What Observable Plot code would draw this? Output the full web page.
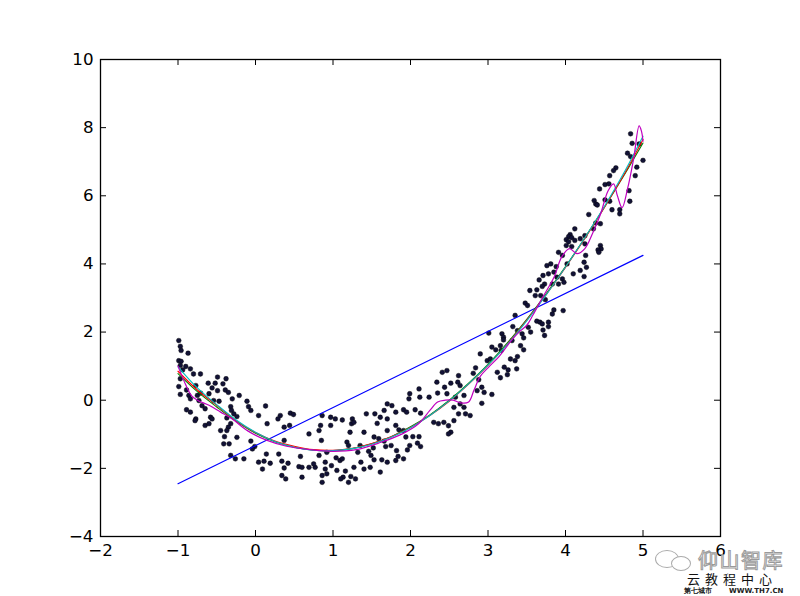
<!DOCTYPE html>
<html>
<head>
<meta charset="utf-8">
<script src="https://cdn.jsdelivr.net/npm/d3@7"></script>
<script src="https://cdn.jsdelivr.net/npm/@observablehq/plot@0.6"></script>
<style>
  html, body { margin: 0; padding: 0; background: #fff; }
  #wrap { position: relative; width: 800px; height: 596px; overflow: hidden; }
  .wm1 { position: absolute; left: 698px; top: 550px; line-height: 1; font-family: "Noto Sans CJK SC"; font-size: 20px; color: #fff; -webkit-text-stroke: 1px #9a9a9a; letter-spacing: 1.5px; }
  .wm2 { position: absolute; left: 687px; top: 572px; line-height: 1; font-family: "Noto Sans CJK SC"; font-size: 13px; color: #111; letter-spacing: 5px; }
  .wm3 { position: absolute; left: 684px; top: 588px; line-height: 1; font-family: "DejaVu Sans"; font-size: 7px; color: #222; font-weight: bold; }
  .wm3b { position: absolute; left: 729px; top: 588px; line-height: 1; font-family: "DejaVu Sans"; font-size: 7px; color: #222; font-weight: bold; }
  .bub1 { position: absolute; left: 655px; top: 550px; width: 22px; height: 16px; border: 1.5px solid #aaa; border-radius: 50%; }
  .bub2 { position: absolute; left: 671px; top: 556px; width: 18px; height: 13px; border: 1.5px solid #aaa; border-radius: 50%; background: #fff; }
</style>
</head>
<body>
<div id="wrap"></div>
<script>
// scatter samples
const scatterX = [
-0.99,-0.97,-0.96,-0.87,-0.99,-0.96,-0.97,-0.90,-0.84,-0.94,-0.80,-0.71,-0.49,-0.97,-0.61,-0.52,-0.42,-0.99,-0.77,-0.89,
-0.56,-0.49,-0.39,-0.35,-0.97,-0.86,-0.75,-0.71,-0.60,-0.38,-0.21,-0.84,-0.73,-0.54,-0.47,-0.30,-0.11,-0.69,-0.65,-0.32,
-0.09,0.13,-0.89,-0.84,-0.31,-0.28,-0.06,-0.77,-0.78,-0.58,-0.56,-0.37,-0.24,0.04,0.32,0.45,0.49,-0.65,-0.60,-0.32,
-0.35,0.15,0.29,-0.45,-0.37,0.86,0.84,0.82,-0.40,-0.24,-0.06,0.37,0.44,0.69,-0.41,-0.34,-0.01,-0.04,0.37,0.85,
-0.32,-0.26,-0.15,0.14,0.30,0.58,0.82,0.04,0.11,0.19,0.34,0.42,0.37,0.56,0.60,0.69,0.77,0.75,0.09,0.34,
0.39,0.60,0.86,0.86,
1.99,2.11,1.98,2.12,1.70,1.76,1.91,2.06,1.66,1.81,1.95,2.13,1.43,1.54,1.61,1.70,0.97,1.03,1.12,1.25,
0.97,1.24,1.27,1.57,1.81,1.91,1.22,1.40,1.70,1.85,1.18,1.53,1.59,1.66,1.94,2.03,2.11,1.20,1.35,1.52,
1.68,1.75,1.82,1.96,1.99,2.09,2.13,0.92,1.04,1.32,1.46,1.49,1.84,1.91,0.90,0.98,1.09,1.12,1.27,1.36,
1.53,1.63,1.70,1.81,0.90,1.05,1.16,1.40,1.48,1.61,1.13,1.23,0.92,1.20,1.10,1.29,
3.91,3.96,3.76,3.81,3.88,4.02,3.71,3.78,3.85,3.89,3.96,3.66,3.73,3.83,3.98,3.70,3.91,3.54,3.63,3.61,
3.68,3.74,3.48,3.51,3.85,3.97,3.83,3.35,3.63,3.67,3.70,3.78,3.78,3.32,3.52,3.55,3.71,3.73,3.38,3.01,
3.18,3.20,3.20,3.44,3.46,3.31,3.42,3.46,3.05,3.10,3.16,3.17,2.90,3.29,3.38,3.35,2.99,3.03,2.84,3.21,
3.26,3.37,3.12,3.25,3.16,2.41,2.47,2.62,2.81,2.34,2.44,2.52,2.61,2.64,2.88,2.35,2.47,2.58,2.69,2.86,
2.92,2.95,3.05,2.24,2.64,2.69,2.92,2.56,2.71,2.77,2.30,2.36,2.43,2.49,2.52,2.56,2.62,2.49,
4.84,4.86,4.95,4.80,5.00,4.92,4.84,4.90,4.65,4.62,4.57,4.51,4.56,4.44,4.82,4.83,4.37,4.39,4.51,4.57,
4.41,4.60,4.70,4.70,4.30,4.39,4.45,4.36,4.12,4.06,4.25,4.04,4.08,4.01,4.12,4.19,4.04,4.01,4.08,4.25,
4.45,4.46,4.42,4.43,4.26,4.24,4.27,4.19,4.10,4.24
];
const scatterY = [
1.75,1.58,1.46,1.38,1.16,1.14,1.02,0.99,0.92,0.89,0.77,0.77,0.68,0.63,0.50,0.50,0.48,0.40,0.43,0.30,
0.36,0.28,0.30,0.23,0.17,0.14,0.14,0.21,0.19,0.63,0.14,0.04,-0.01,-0.01,-0.03,0.04,-0.03,-0.16,-0.25,-0.19,
-0.19,-0.17,-0.28,-0.35,-0.30,-0.40,-0.30,-0.55,-0.60,-0.50,-0.55,-0.52,-0.48,-0.45,-0.45,-0.38,-0.42,-0.74,-0.69,-0.69,
-0.79,-0.69,-0.55,-0.89,-0.89,-0.45,-0.74,-0.89,-1.07,-1.09,-1.20,-0.79,-0.74,-0.99,-1.28,-1.28,-1.36,-1.43,-1.18,-1.18,
-1.62,-1.72,-1.72,-1.58,-1.58,-1.65,-1.62,-1.82,-1.79,-1.85,-1.79,-1.85,-1.99,-1.95,-1.97,-1.97,-1.97,-1.87,-2.02,-2.21,
-2.31,-2.26,-2.21,-2.41,
0.19,0.33,0.04,0.09,-0.11,-0.16,-0.28,-0.28,-0.30,-0.35,-0.35,-0.38,-0.40,-0.40,-0.50,-0.55,-0.50,-0.55,-0.58,-0.55,
-0.74,-0.69,-0.65,-0.68,-0.74,-0.89,-0.94,-0.94,-0.89,-0.87,-1.23,-1.08,-1.13,-1.20,-1.08,-1.07,-1.07,-1.33,-1.33,-1.40,
-1.36,-1.33,-1.48,-1.46,-1.33,-1.26,-1.36,-1.53,-1.69,-1.53,-1.50,-1.62,-1.65,-1.72,-1.82,-1.92,-1.77,-1.72,-1.97,-1.82,
-1.75,-1.75,-1.82,-1.77,-2.02,-2.06,-2.08,-2.02,-1.97,-2.11,-2.26,-2.24,-2.16,-2.41,-2.31,-2.31,
4.34,4.25,3.95,4.00,3.92,4.00,3.66,3.71,3.76,3.61,3.56,3.53,3.41,3.41,3.46,3.34,3.41,3.22,3.24,3.07,
3.07,2.95,2.85,2.78,2.65,2.63,2.53,2.49,2.32,2.29,2.24,2.16,2.29,2.16,2.14,2.00,2.06,1.90,2.04,1.97,
1.95,1.85,1.77,1.95,1.83,1.75,1.60,1.48,1.56,1.48,1.60,1.46,1.36,1.21,1.28,1.16,1.16,1.21,0.95,0.97,
0.89,0.92,0.82,0.75,0.66,0.82,0.87,0.72,0.79,0.53,0.38,0.50,0.53,0.43,0.60,0.21,0.19,0.09,0.14,0.28,
0.38,0.23,0.17,0.09,-0.11,-0.21,-0.09,-0.21,-0.40,-0.45,-0.65,-0.69,-0.65,-0.75,-0.94,-0.60,-0.40,-0.99,
7.82,7.54,7.52,7.25,7.04,6.84,7.15,6.59,6.82,6.74,6.59,6.33,6.35,6.20,6.15,5.84,5.86,5.76,5.88,5.84,
5.73,5.59,5.59,5.47,5.45,5.20,5.18,5.03,5.03,4.86,4.83,4.80,4.77,4.71,4.69,4.74,4.65,4.54,4.51,4.59,
4.54,4.44,4.41,4.34,4.25,4.05,3.90,3.81,3.71,3.63
];

// straight (blue) fit
const linearX = [-1, 5];
const linearY = [-2.45, 4.25];

// smooth fits sampled along x
const fitX = [-1,-0.75,-0.5,-0.25,0,0.25,0.5,0.75,1,1.25,1.5,1.75,2,2.25,2.5,2.75,3,3.25,3.5,3.75,4,4.25,4.5,4.75,5];
const greenY = [0.78,0.25,-0.2,-0.62,-0.97,-1.22,-1.38,-1.47,-1.49,-1.42,-1.28,-1.07,-0.78,-0.43,0.0,0.5,1.05,1.68,2.37,3.12,3.92,4.77,5.66,6.58,7.55];
const redY   = [0.85,0.3,-0.15,-0.6,-0.95,-1.2,-1.35,-1.45,-1.47,-1.41,-1.27,-1.07,-0.8,-0.45,-0.03,0.47,1.02,1.65,2.35,3.1,3.9,4.75,5.65,6.6,7.65];
const cyanY  = [0.98,0.36,-0.13,-0.58,-0.94,-1.21,-1.38,-1.47,-1.48,-1.42,-1.29,-1.09,-0.81,-0.45,-0.02,0.48,1.03,1.64,2.33,3.09,3.91,4.77,5.68,6.66,7.75];

// high-degree (magenta) fit
const magentaX = [-1,-0.9,-0.82,-0.75,-0.6,-0.45,-0.3,-0.1,0.15,0.4,0.7,1.0,1.3,1.6,1.9,2.1,2.25,2.35,2.45,2.55,2.65,2.75,2.82,2.9,3.0,3.15,3.3,3.4,3.5,3.58,3.7,3.85,3.95,4.05,4.15,4.25,4.35,4.45,4.55,4.62,4.67,4.73,4.8,4.88,4.95,4.98,5.0];
const magentaY = [1.0,0.45,0.12,0.0,-0.15,-0.35,-0.55,-0.9,-1.18,-1.35,-1.45,-1.5,-1.45,-1.25,-0.98,-0.7,-0.3,-0.05,0.0,0.0,-0.08,-0.05,0.3,0.7,0.95,1.3,1.75,2.0,2.2,2.5,3.0,3.6,4.2,4.45,4.3,4.45,4.9,5.45,6.15,6.35,6.0,5.65,6.2,7.1,8.05,7.9,7.6];

const xTicks = [-2,-1,0,1,2,3,4,5,6];
const yTicks = [-4,-2,0,2,4,6,8,10];

const toRows = (xs, ys) => xs.map((x, i) => ({x, y: ys[i]}));
const pts = toRows(scatterX, scatterY);

const W = 800, H = 596, mL = 100, mR = 80, mT = 59, mB = 60;
const innerW = W - mL - mR, innerH = H - mT - mB, tick = 6;

const chart = Plot.plot({
  width: W, height: H,
  marginLeft: mL, marginRight: mR, marginTop: mT, marginBottom: mB,
  style: {fontFamily: "DejaVu Sans", fontSize: "16.7px", background: "white", color: "black"},
  x: {domain: [-2, 6], label: null},
  y: {domain: [-4, 10], label: null},
  marks: [
    Plot.dot(pts, {x: "x", y: "y", r: 2.4, fill: "#121236", stroke: "#000", strokeWidth: 0.4}),
    Plot.line(toRows(linearX, linearY), {x: "x", y: "y", stroke: "#0000ff", strokeWidth: 1.2}),
    Plot.line(toRows(fitX, greenY), {x: "x", y: "y", stroke: "#008000", strokeWidth: 1.1, curve: "catmull-rom"}),
    Plot.line(toRows(fitX, redY), {x: "x", y: "y", stroke: "#ff0000", strokeWidth: 1.1, curve: "catmull-rom"}),
    Plot.line(toRows(fitX, cyanY), {x: "x", y: "y", stroke: "#00bfbf", strokeWidth: 1.1, curve: "catmull-rom"}),
    Plot.line(toRows(magentaX, magentaY), {x: "x", y: "y", stroke: "#bf00bf", strokeWidth: 1.2, curve: "catmull-rom"}),
    Plot.ruleX(xTicks, {insetTop: innerH - tick, stroke: "black"}),
    Plot.ruleX(xTicks, {insetBottom: innerH - tick, stroke: "black"}),
    Plot.ruleY(yTicks, {insetRight: innerW - tick, stroke: "black"}),
    Plot.ruleY(yTicks, {insetLeft: innerW - tick, stroke: "black"}),
    Plot.frame({stroke: "black", strokeWidth: 1.3}),
    Plot.axisX(xTicks, {tickSize: 0, tickPadding: 8, fontSize: 16.7}),
    Plot.axisY(yTicks, {tickSize: 0, tickPadding: 7, fontSize: 16.7})
  ]
});

const wrap = document.getElementById("wrap");
wrap.appendChild(chart);
wrap.insertAdjacentHTML("beforeend",
  '<div class="bub1"></div><div class="bub2"></div>' +
  '<div class="wm1">仰山智库</div>' +
  '<div class="wm2">云教程中心</div>' +
  '<div class="wm3">第七城市</div><div class="wm3b">WWW.TH7.CN</div>');
</script>
</body>
</html>
